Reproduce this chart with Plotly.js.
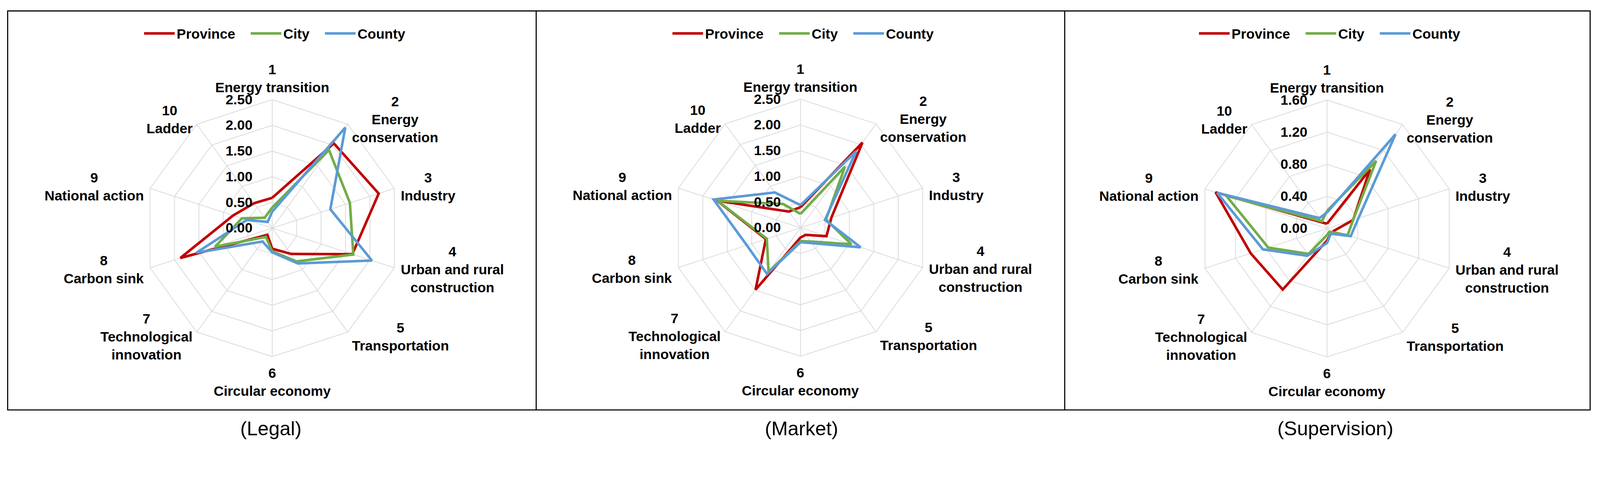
<!DOCTYPE html>
<html>
<head>
<meta charset="utf-8">
<script src="https://cdn.plot.ly/plotly-3.0.1.min.js"></script>
<style>
  html, body { margin: 0; padding: 0; background: #fff; overflow: hidden; }
</style>
</head>
<body>
<div id="chart"></div>
<script>
// categories round the radar, clockwise from the top
var categories = ['Energy transition', 'Energy conservation', 'Industry',
  'Urban and rural construction', 'Transportation', 'Circular economy',
  'Technological innovation', 'Carbon sink', 'National action', 'Ladder'];
var catLabels = ['1<br>Energy transition', '2<br>Energy<br>conservation', '3<br>Industry',
  '4<br>Urban and rural<br>construction', '5<br>Transportation', '6<br>Circular economy',
  '7<br>Technological<br>innovation', '8<br>Carbon sink', '9<br>National action', '10<br>Ladder'];
var seriesNames = ['Province', 'City', 'County'];
var panelTitles = ['(Legal)', '(Market)', '(Supervision)'];

// values
var legalProvince = [0.59, 2.04, 2.18, 1.64, 0.62, 0.40, 0.16, 1.88, 0.80, 0.60];
var legalCity     = [0.40, 1.88, 1.59, 1.66, 0.80, 0.45, 0.21, 1.17, 0.62, 0.25];
var legalCounty   = [0.32, 2.42, 1.19, 2.04, 0.85, 0.47, 0.32, 1.55, 0.52, 0.15];

var marketProvince = [0.40, 2.05, 0.63, 0.53, 0.17, 0.19, 1.49, 0.71, 1.71, 0.39];
var marketCity     = [0.27, 1.47, 0.52, 1.04, 0.33, 0.26, 1.06, 0.69, 1.70, 0.57];
var marketCounty   = [0.44, 1.84, 0.50, 1.23, 0.37, 0.28, 1.11, 1.10, 1.78, 0.85];

var superProvince = [0.06, 0.91, 0.34, 0.09, 0.08, 0.15, 0.94, 1.00, 1.46, 0.09];
var superCity     = [0.22, 1.04, 0.34, 0.27, 0.05, 0.08, 0.39, 0.77, 1.32, 0.11];
var superCounty   = [0.20, 1.45, 0.41, 0.31, 0.08, 0.18, 0.42, 0.84, 1.44, 0.16];

var colors = ['#C00000', '#70AD47', '#5B9BD5'];

// design geometry in reference pixels; scaled to the real viewport below
var W = 4385, H = 1231;
var R = 352;
var panels = [
  {cx: 746,  cy: 625, capX: 742,  max: 2.5, step: 0.5, series: [legalProvince, legalCity, legalCounty]},
  {cx: 2194, cy: 624, capX: 2197, max: 2.5, step: 0.5, series: [marketProvince, marketCity, marketCounty]},
  {cx: 3637, cy: 626, capX: 3660, max: 1.6, step: 0.4, series: [superProvince, superCity, superCounty]}
];
var frame = {x0: 21, x1: 4358, y0: 30, y1: 1123, dividers: [1469.5, 2918]};

var s = Math.min(window.innerWidth / W, window.innerHeight / H) || 1;
function S(v) { return v * s; }

var fontFamily = 'Liberation Sans, Arial, sans-serif';
var boldFont = {family: fontFamily, size: S(38), color: '#000', weight: 'bold'};
var grid = '#d9d9d9';
var legendPad = '\u00a0\u00a0\u00a0';   // extra room after a legend entry

function px(x) { return x / W; }
function py(y) { return 1 - y / H; }

var traces = [];
var annotations = [];
var layout = {
  width: S(W), height: S(H),
  margin: {l: 0, r: 0, t: 0, b: 0},
  paper_bgcolor: '#fff',
  font: {family: fontFamily, color: '#000'},
  shapes: [],
  annotations: annotations
};

panels.forEach(function (p, i) {
  var n = i + 1;
  var polarId = n === 1 ? 'polar' : 'polar' + n;
  var legendId = n === 1 ? 'legend' : 'legend' + n;

  p.series.forEach(function (vals, k) {
    traces.push({
      type: 'scatterpolar',
      mode: 'lines',
      subplot: polarId,
      legend: legendId,
      name: seriesNames[k] + (k < seriesNames.length - 1 ? legendPad : ''),
      r: vals.concat(vals[0]),
      theta: categories.concat(categories[0]),
      line: {color: colors[k], width: S(7)},
      hoverinfo: 'skip'
    });
  });

  layout[polarId] = {
    domain: {
      x: [px(p.cx - R), px(p.cx + R)],
      y: [py(p.cy + R), py(p.cy - R)]
    },
    bgcolor: 'rgba(0,0,0,0)',
    gridshape: 'linear',
    radialaxis: {
      range: [0, p.max],
      dtick: p.step,
      tick0: 0,
      tickformat: '.2f',
      angle: 90,
      side: 'counterclockwise',
      tickangle: 90,
      showline: false,
      ticks: 'outside',
      ticklen: S(40),
      tickcolor: 'rgba(0,0,0,0)',
      gridcolor: grid,
      gridwidth: S(2),
      tickfont: boldFont,
      layer: 'above traces'
    },
    angularaxis: {
      type: 'category',
      categoryarray: categories,
      direction: 'clockwise',
      rotation: 90,
      showticklabels: false,
      ticks: '',
      gridcolor: grid,
      gridwidth: S(2),
      linecolor: grid,
      linewidth: S(2)
    }
  };

  layout[legendId] = {
    orientation: 'h',
    x: px(p.cx + 7), xanchor: 'center',
    y: py(92), yanchor: 'middle',
    font: boldFont,
    itemwidth: S(84),
    bgcolor: 'rgba(0,0,0,0)'
  };

  // category labels just outside the outer ring, anchored like the original
  catLabels.forEach(function (lab, j) {
    var a = j * 2 * Math.PI / categories.length;
    var sn = Math.sin(a), c = Math.cos(a);
    var onAxis = Math.abs(sn) < 0.01;
    var d = onAxis ? (c > 0 ? 10 : 22) : 16;
    var x = p.cx + (R + d) * sn;
    var y = p.cy - (R + d) * c;
    var xa = onAxis ? 'center' : (sn > 0 ? 'left' : 'right');
    var ya = onAxis ? (c > 0 ? 'bottom' : 'top') : 'middle';
    annotations.push({
      xref: 'paper', yref: 'paper', x: px(x), y: py(y),
      xanchor: xa, yanchor: ya, align: 'center',
      text: lab, showarrow: false, font: boldFont
    });
  });

  annotations.push({
    xref: 'paper', yref: 'paper', x: px(p.capX), y: py(1174),
    xanchor: 'center', yanchor: 'middle',
    text: panelTitles[i], showarrow: false,
    font: {family: fontFamily, size: S(54), color: '#000'}
  });
});

// outer frame with the two panel dividers
layout.shapes.push({
  type: 'rect', xref: 'paper', yref: 'paper',
  x0: px(frame.x0), x1: px(frame.x1), y0: py(frame.y1), y1: py(frame.y0),
  line: {color: '#000', width: S(3)}
});
frame.dividers.forEach(function (x) {
  layout.shapes.push({
    type: 'line', xref: 'paper', yref: 'paper',
    x0: px(x), x1: px(x), y0: py(frame.y1), y1: py(frame.y0),
    line: {color: '#000', width: S(3)}
  });
});

Plotly.newPlot('chart', traces, layout, {displayModeBar: false, staticPlot: true});
</script>
</body>
</html>
